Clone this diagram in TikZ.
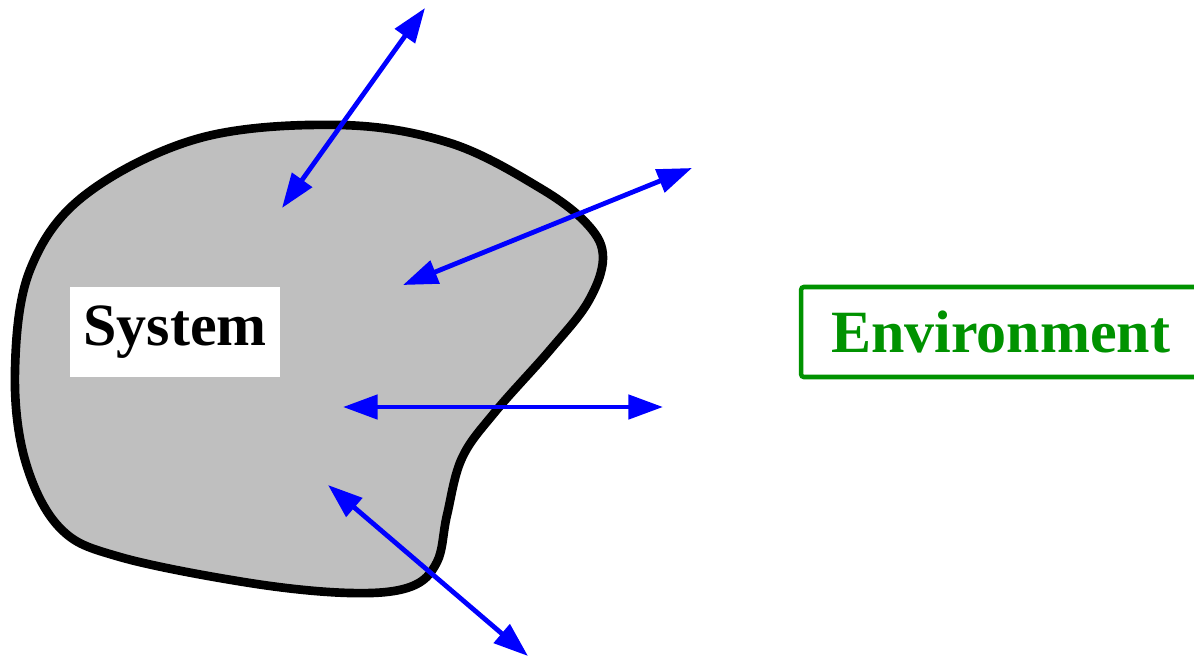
\documentclass[tikz,border=0pt]{standalone}
\usepackage{fontspec}
\setmainfont{Liberation Serif}
\usetikzlibrary{arrows.meta}
\definecolor{envgreen}{RGB}{0,146,0}
\definecolor{blobgray}{RGB}{191,191,191}
\tikzset{
  flow/.style={blue, line width=3.6pt, {Triangle[length=26pt,width=18pt]}-{Triangle[length=26pt,width=18pt]}},
  blob/.style={fill=blobgray, draw=black, line width=6.5pt},
  label/.style={font=\fontsize{45}{50}\selectfont\bfseries, inner sep=0pt}
}
\begin{document}
\begin{tikzpicture}[x=0.75pt,y=-0.75pt]
\clip (0,0) rectangle (1194,657);
\path[fill=white] (0,0) rectangle (1194,657);
\draw[blob] plot[smooth cycle, tension=0.6] coordinates {
 (340,125) (200,138) (85,195) (30,270) (15,370) (25,460) (60,528) (120,557)
 (250,583) (350,593) (410,587) (437,562) (447,515) (462,458) (495,412)
 (550,350) (588,302) (603,258) (588,225) (540,188) (450,143)};
\node[label, fill=white, minimum width=157.5pt, minimum height=67.5pt] (sys) at (175,332) {System};
\node[label, text=envgreen, draw=envgreen, line width=3.4pt, rounded corners=2pt,
      minimum width=299pt, minimum height=67.5pt] (env) at (1000.5,332) {Environment};
\coordinate (a1) at (282,208); \coordinate (b1) at (425,8);
\coordinate (a2) at (403,285); \coordinate (b2) at (692,168);
\coordinate (a3) at (343,407); \coordinate (b3) at (663,407);
\coordinate (a4) at (328,485); \coordinate (b4) at (528,656);
\draw[flow] (a1) -- (b1);
\draw[flow] (a2) -- (b2);
\draw[flow] (a3) -- (b3);
\draw[flow] (a4) -- (b4);
\end{tikzpicture}
\end{document}
